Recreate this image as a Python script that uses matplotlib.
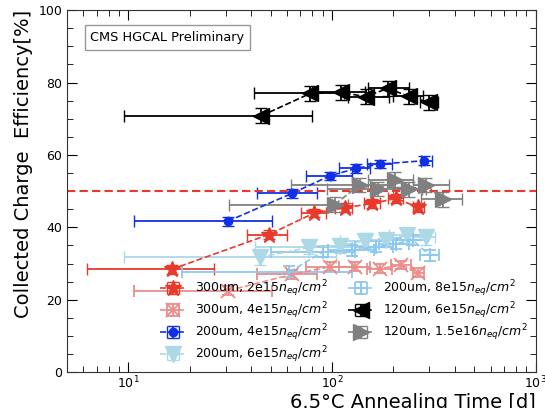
import matplotlib
matplotlib.use("Agg")
import matplotlib.pyplot as plt
import numpy as np

# ---------------- data ----------------
# 300um, 2e15
r_x = [16.3, 48.9, 82, 116, 157, 207, 264]
r_y = [28.4, 38.0, 44.0, 45.4, 46.6, 48.0, 45.5]
r_xlo = [6.3, 38.3, 70.3, 103, 143, 188, 249]
r_xhi = [26.2, 60.2, 93.5, 126, 172, 223, 282]
r_ye = [1.2, 1.2, 1.2, 1.2, 1.2, 1.2, 1.2]

# 300um, 4e15
s_x = [30.8, 63.7, 97.3, 129, 172.5, 219, 264]
s_y = [22.5, 27.0, 29.1, 29.1, 28.6, 29.6, 27.5]
s_xlo = [10.6, 42.8, 74.6, 108, 149, 195, 249]
s_xhi = [50.6, 84.5, 125, 153, 197, 245, 282]
s_ye = [1.2, 1.2, 1.2, 1.2, 1.2, 1.2, 1.2]

# 200um, 4e15
b_x = [30.8, 63.7, 97.3, 131.5, 172.5, 282]
b_y = [41.7, 49.4, 54.2, 56.3, 57.5, 58.4]
b_xlo = [10.6, 42.8, 74.6, 108, 149, 272]
b_xhi = [50.6, 84.5, 125, 153, 197, 309]
b_ye = [1.2, 1.2, 1.2, 1.2, 1.2, 1.2]

# 200um, 6e15
v_x = [44.1, 77.5, 109, 144.5, 184.7, 234, 290.6]
v_y = [31.7, 34.5, 34.9, 36.3, 36.5, 37.8, 37.2]
v_xlo = [9.5, 42, 80, 110, 150, 190, 250]
v_xhi = [105, 125, 150, 190, 230, 270, 320]
v_ye = [2.0, 2.0, 2.0, 2.0, 2.0, 2.0, 2.0]

# 200um, 8e15
p_x = [61.8, 90, 126, 165, 205, 249, 301]
p_y = [27.7, 33.2, 33.7, 34.6, 35.5, 36.5, 32.3]
p_xlo = [18.4, 50, 95, 130, 170, 200, 271]
p_xhi = [126, 130, 160, 200, 240, 290, 335]
p_ye = [1.5, 1.5, 1.5, 1.5, 1.5, 1.5, 1.5]

# 120um, 6e15
k_x = [44.9, 78.2, 111, 146, 188, 238, 299]
k_y = [70.8, 77.0, 77.3, 76.1, 78.4, 76.2, 74.5]
k_xlo = [9.5, 41.6, 80, 120, 150, 200, 270]
k_xhi = [79.5, 115, 145, 190, 240, 280, 333]
k_ye = [2.1, 2.1, 2.1, 2.1, 2.1, 2.1, 2.1]

# 120um, 1.5e16
g_x = [103, 136.5, 168, 203, 240, 290, 351]
g_y = [46.3, 51.7, 50.6, 53.2, 50.5, 51.7, 47.7]
g_xlo = [31.1, 63, 94.6, 150, 200, 250, 274]
g_xhi = [120, 200, 278, 250, 290, 375, 436]
g_ye = [2.0, 2.0, 2.0, 2.0, 2.0, 2.0, 2.0]

labels = [r"300um, 2e15$n_{eq}/cm^2$", r"300um, 4e15$n_{eq}/cm^2$",
          r"200um, 4e15$n_{eq}/cm^2$", r"200um, 6e15$n_{eq}/cm^2$",
          r"200um, 8e15$n_{eq}/cm^2$", r"120um, 6e15$n_{eq}/cm^2$",
          r"120um, 1.5e16$n_{eq}/cm^2$"]

series = [
    (r_x, r_y, r_xlo, r_xhi, r_ye, '#e8392b', '*', 12),
    (s_x, s_y, s_xlo, s_xhi, s_ye, '#ec8c8a', 'x', 10),
    (b_x, b_y, b_xlo, b_xhi, b_ye, '#1030e8', 'o', 6),
    (v_x, v_y, v_xlo, v_xhi, v_ye, '#add8e6', 'v', 11),
    (p_x, p_y, p_xlo, p_xhi, p_ye, '#8cc8f0', '+', 10),
    (k_x, k_y, k_xlo, k_xhi, k_ye, 'black', '<', 11),
    (g_x, g_y, g_xlo, g_xhi, g_ye, 'gray', '>', 11),
]

fig = plt.figure(figsize=(5.45, 4.08), dpi=100)
ax = fig.add_axes([0.123, 0.088, 0.86, 0.887])

handles = []
for (x, y, xlo, xhi, ye, c, m, ms), lab in zip(series, labels):
    x = np.array(x); xlo = np.array(xlo); xhi = np.array(xhi)
    xerr = [x - xlo, xhi - x]
    h = ax.errorbar(x, y, xerr=xerr, yerr=ye, color=c, marker=m, ms=ms,
                    ls='--', lw=1.2, elinewidth=1.3, capsize=4, capthick=1.2,
                    mew=1.3 if m in ('x', '+') else 1, label=lab)
    handles.append(h)

ax.axhline(50, color='#e8392b', ls='--', lw=1.5, dashes=(4, 2))

ax.set_xscale('log')
ax.set_xlim(5, 1000)
ax.set_ylim(0, 100)
ax.set_yticks([0, 20, 40, 60, 80, 100])
ax.set_yticks(np.arange(0, 101, 5), minor=True)
ax.tick_params(which='both', direction='in', top=True, right=True, labelsize=9)
ax.tick_params(axis='x', which='major', pad=2)
ax.tick_params(which='major', length=7)
ax.tick_params(which='minor', length=4)
for sp in ax.spines.values():
    sp.set_color('#333333')

ax.set_xlabel("6.5°C Annealing Time [d]", fontsize=14, loc='right', labelpad=1)
ax.set_ylabel("Collected Charge  Efficiency[%]", fontsize=14, loc='top')

ax.text(0.05, 0.925, "CMS HGCAL Preliminary", transform=ax.transAxes, fontsize=9.3,
        va='center', ha='left',
        bbox=dict(boxstyle='square,pad=0.45', fc='white', ec='#999999', lw=1))

ax.legend(handles, labels, ncol=2,
          loc='upper left', bbox_to_anchor=(0.175, 0.29), frameon=False,
          fontsize=9, handlelength=2.0, columnspacing=1.6, labelspacing=0.12)

fig.savefig("out.png", dpi=100)
